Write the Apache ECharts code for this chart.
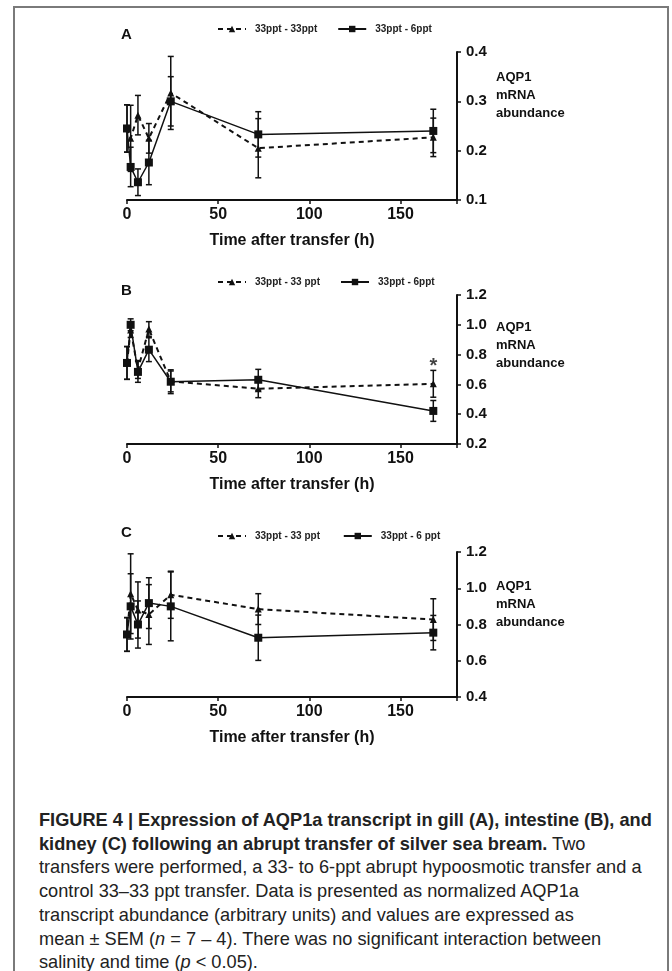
<!DOCTYPE html>
<html>
<head>
<meta charset="utf-8">
<script src="https://cdn.jsdelivr.net/npm/echarts@6.0.0/dist/echarts.min.js"></script>
<style>
  html, body { margin: 0; padding: 0; background: #fff; }
  body { width: 672px; height: 971px; position: relative; overflow: hidden; }
  #frame { position: absolute; left: 13px; top: 6px; width: 656px; height: 1100px; border: 2px solid #7a7a7a; box-sizing: border-box; }
  #chart { position: absolute; left: 0; top: 0; width: 672px; height: 760px; }
  #caption { position: absolute; left: 39px; top: 809px; font-family: "Liberation Sans", Arial, sans-serif; font-size: 18.2px; line-height: 23.7px; color: #222; white-space: nowrap; }
</style>
</head>
<body>
<div id="frame"></div>
<div id="chart"></div>
<div id="caption"><b>FIGURE 4 | Expression of AQP1a transcript in gill (A), intestine (B), and<br>kidney (C) following an abrupt transfer of silver sea bream.</b> Two<br>transfers were performed, a 33- to 6-ppt abrupt hypoosmotic transfer and a<br>control 33–33 ppt transfer. Data is presented as normalized AQP1a<br>transcript abundance (arbitrary units) and values are expressed as<br>mean ± SEM (<i>n</i> = 7 – 4). There was no significant interaction between<br>salinity and time (<i>p</i> &lt; 0.05).</div>
<script>
// sampling times (h)
var times = [0, 2, 6, 12, 24, 72, 168]

// A - gill
var gillCtrl = [0.245, 0.225, 0.272, 0.225, 0.317, 0.205, 0.227]
var gillCtrlSem = [0.048, 0.067, 0.04, 0.03, 0.074, 0.06, 0.039]
var gillLow = [0.245, 0.167, 0.136, 0.176, 0.300, 0.233, 0.240]
var gillLowSem = [0.048, 0.04, 0.027, 0.045, 0.05, 0.046, 0.044]
var gillRange = [0.1, 0.4, 0.1]

// B - intestine
var gutCtrl = [0.744, 0.965, 0.70, 0.971, 0.62, 0.571, 0.604]
var gutCtrlSem = [0.11, 0.05, 0.06, 0.05, 0.07, 0.06, 0.09]
var gutLow = [0.744, 1.0, 0.684, 0.833, 0.618, 0.631, 0.422]
var gutLowSem = [0.11, 0.04, 0.07, 0.08, 0.08, 0.07, 0.07]
var gutRange = [0.2, 1.2, 0.2]
var gutStar = [168, 0.72]

// C - kidney
var kidCtrl = [0.745, 0.97, 0.88, 0.855, 0.964, 0.885, 0.827]
var kidCtrlSem = [0.093, 0.22, 0.155, 0.165, 0.13, 0.085, 0.115]
var kidLow = [0.745, 0.90, 0.80, 0.918, 0.90, 0.727, 0.755]
var kidLowSem = [0.093, 0.18, 0.13, 0.14, 0.19, 0.125, 0.095]
var kidRange = [0.4, 1.2, 0.2]

var xRange = [0, 181, 50]

var font = '"Liberation Sans", Arial, sans-serif'
var ink = '#111'

var panels = [
  { letter: 'A', letterTop: 27, top: 52, height: 148, range: gillRange, legTop: 19,
    names: ['33ppt - 33ppt', '33ppt - 6ppt'],
    ctrl: gillCtrl, ctrlSem: gillCtrlSem, low: gillLow, lowSem: gillLowSem,
    yName: 'AQP1\nmRNA\nabundance', yNameTop: 68 },
  { letter: 'B', letterTop: 283, top: 295, height: 149, range: gutRange, legTop: 272,
    names: ['33ppt - 33 ppt', '33ppt - 6ppt '],
    ctrl: gutCtrl, ctrlSem: gutCtrlSem, low: gutLow, lowSem: gutLowSem,
    yName: 'AQP1\nmRNA\nabundance', yNameTop: 318 },
  { letter: 'C', letterTop: 525, top: 552, height: 145, range: kidRange, legTop: 526,
    names: ['33ppt - 33 ppt ', '33ppt - 6 ppt'],
    ctrl: kidCtrl, ctrlSem: kidCtrlSem, low: kidLow, lowSem: kidLowSem,
    yName: 'AQP1\nmRNA\nabundance', yNameTop: 577 }
]

function renderErr(params, api) {
  var x = api.value(0)
  var lo = api.coord([x, api.value(1)])
  var hi = api.coord([x, api.value(2)])
  var w = 3
  var st = { stroke: ink, lineWidth: 1.5 }
  return {
    type: 'group',
    children: [
      { type: 'line', shape: { x1: lo[0], y1: lo[1], x2: hi[0], y2: hi[1] }, style: st },
      { type: 'line', shape: { x1: lo[0] - w, y1: lo[1], x2: lo[0] + w, y2: lo[1] }, style: st },
      { type: 'line', shape: { x1: hi[0] - w, y1: hi[1], x2: hi[0] + w, y2: hi[1] }, style: st }
    ]
  }
}

function errData(m, s) {
  return times.map(function(t, i) { return [t, +(m[i] - s[i]).toFixed(3), +(m[i] + s[i]).toFixed(3)] })
}

function pts(m) {
  return times.map(function(t, i) { return [t, m[i]] })
}

var grids = [], xAxes = [], yAxes = [], series = [], legends = [], texts = []

panels.forEach(function(p, k) {
  grids.push({ left: 127, right: 215, top: p.top, height: p.height })
  xAxes.push({
    type: 'value', gridIndex: k, min: xRange[0], max: xRange[1], interval: xRange[2],
    name: 'Time after transfer (h)', nameLocation: 'middle', nameGap: 33,
    nameTextStyle: { fontFamily: font, fontSize: 16, fontWeight: 'bold', color: ink },
    axisLine: { onZero: false, lineStyle: { color: ink, width: 2 } },
    axisTick: { length: 4, lineStyle: { color: ink, width: 1.5 } },
    axisLabel: {
      margin: 7, fontFamily: font, fontSize: 16, fontWeight: 'bold', color: ink,
      formatter: function(v) { return v % 50 === 0 ? String(v) : '' }
    },
    splitLine: { show: false }
  })
  yAxes.push({
    type: 'value', gridIndex: k, position: 'right',
    min: p.range[0], max: p.range[1], interval: p.range[2],
    axisLine: { show: true, onZero: false, lineStyle: { color: ink, width: 2 } },
    axisTick: { show: true, length: 4, lineStyle: { color: ink, width: 1.5 } },
    axisLabel: {
      margin: 9, fontFamily: font, fontSize: 15, fontWeight: 'bold', color: ink,
      formatter: function(v) { return v.toFixed(1) }
    },
    splitLine: { show: false }
  })
  series.push(
    { type: 'custom', xAxisIndex: k, yAxisIndex: k, renderItem: renderErr,
      data: errData(p.ctrl, p.ctrlSem), encode: { x: 0, y: [1, 2] }, z: 1, silent: true },
    { type: 'custom', xAxisIndex: k, yAxisIndex: k, renderItem: renderErr,
      data: errData(p.low, p.lowSem), encode: { x: 0, y: [1, 2] }, z: 1, silent: true },
    { name: p.names[0], type: 'line', xAxisIndex: k, yAxisIndex: k, data: pts(p.ctrl),
      symbol: 'triangle', symbolSize: 7, z: 3,
      lineStyle: { color: ink, width: 2, type: [5, 4] }, itemStyle: { color: ink } },
    { name: p.names[1], type: 'line', xAxisIndex: k, yAxisIndex: k, data: pts(p.low),
      symbol: 'rect', symbolSize: 8, z: 4,
      lineStyle: { color: ink, width: 1.5 }, itemStyle: { color: ink } }
  )
  legends.push({
    left: 212, top: p.legTop, itemWidth: 28, itemHeight: 8, itemGap: 20, selectedMode: false,
    data: p.names,
    textStyle: { fontFamily: font, fontSize: 10, fontWeight: 'bold', color: '#222', padding: [0, 0, 0, 4] }
  })
  texts.push(
    { type: 'text', left: 121, top: p.letterTop,
      style: { text: p.letter, font: 'bold 15px ' + font, fill: ink } },
    { type: 'text', left: 496, top: p.yNameTop,
      style: { text: p.yName, font: 'bold 13px ' + font, fill: ink, lineHeight: 18 } }
  )
})

// significance mark on intestine, 168 h
series.push({
  type: 'scatter', xAxisIndex: 1, yAxisIndex: 1, data: [gutStar], symbolSize: 1,
  itemStyle: { color: 'transparent' }, silent: true,
  label: { show: true, position: 'inside', formatter: '*', fontSize: 20, fontWeight: 'bold', color: ink, fontFamily: font }
})

var chart = echarts.init(document.getElementById('chart'))
chart.setOption({
  animation: false,
  grid: grids,
  xAxis: xAxes,
  yAxis: yAxes,
  legend: legends,
  series: series,
  graphic: texts
})
</script>
</body>
</html>
